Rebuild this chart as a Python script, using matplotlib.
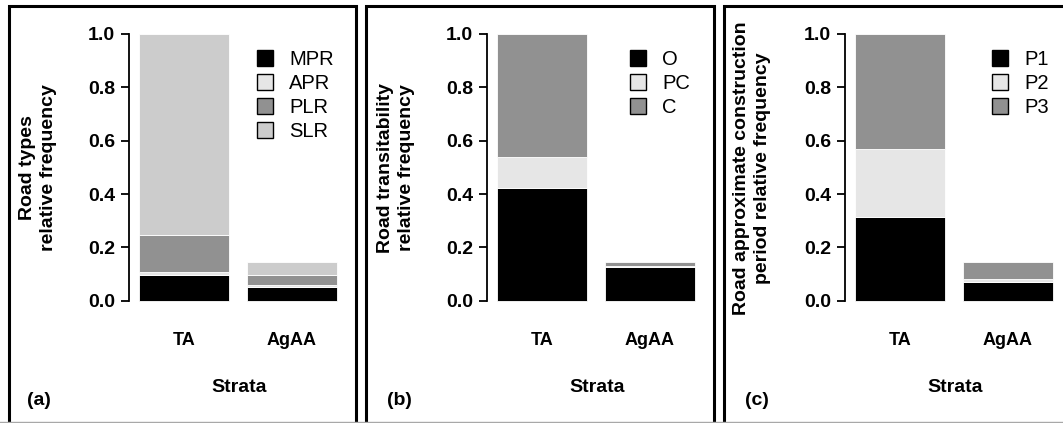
import numpy as np
import matplotlib.pyplot as plt
from matplotlib.patches import Patch, Rectangle
from matplotlib.lines import Line2D

plt.rcParams['font.family'] = ['Liberation Sans', 'DejaVu Sans']

strata = ['TA', 'AgAA']

# (a) road types
type_labels = ['MPR', 'APR', 'PLR', 'SLR']
mpr = [0.095, 0.050]
apr = [0.014, 0.009]
plr = [0.137, 0.037]
slr = [0.754, 0.049]

# (b) road transitability
transit_labels = ['O', 'PC', 'C']
open_ = [0.421, 0.125]
part_closed = [0.117, 0.005]
closed = [0.462, 0.015]

# (c) approximate construction period
period_labels = ['P1', 'P2', 'P3']
p1 = [0.314, 0.070]
p2 = [0.256, 0.013]
p3 = [0.430, 0.062]

BLACK, LIGHT, MID, PALE = 'black', '#e6e6e6', '#919191', '#cccccc'

W, H = 1063, 423
fig = plt.figure(figsize=(W / 100, H / 100), dpi=100)


def fx(px):
    return px / W


def fy(py):
    return 1 - py / H


def stacked_panel(left_px, series, labels, colors, ylabel, ylab_px, tag, tag_px, leg_px):
    ax = fig.add_axes([fx(left_px), fy(311.4), fx(217.8), 288.1 / H])
    x = np.array([0.7, 1.9])
    bottom = np.zeros(2)
    for vals, c in zip(series, colors):
        ax.bar(x, vals, width=1.0, bottom=bottom, color=c,
               edgecolor='white', linewidth=0.6)
        bottom += np.array(vals)

    ax.set_xlim(0.09, 2.51)
    ax.set_ylim(-0.04, 1.04)
    for s in ['top', 'right', 'bottom']:
        ax.spines[s].set_visible(False)
    ax.spines['left'].set_bounds(0, 1)
    ax.spines['left'].set_linewidth(1.3)
    ax.set_yticks([0, 0.2, 0.4, 0.6, 0.8, 1.0])
    ax.set_yticklabels(['0.0', '0.2', '0.4', '0.6', '0.8', '1.0'])
    ax.tick_params(axis='y', length=6, width=1.3, pad=4, labelsize=14)
    ax.set_xticks(x)
    ax.set_xticklabels(strata)
    ax.tick_params(axis='x', length=0, pad=15, labelsize=13)
    for t in ax.get_xticklabels() + ax.get_yticklabels():
        t.set_fontweight('bold')

    fig.text(fx(ylab_px), fy(168), ylabel, rotation=90, ha='center', va='center',
             fontsize=14, fontweight='bold', linespacing=1.25)
    fig.text(fx(left_px + 10 + 100), fy(387), 'Strata', ha='center', va='center',
             fontsize=14, fontweight='bold')
    fig.text(fx(tag_px), fy(400), tag, ha='left', va='center',
             fontsize=14, fontweight='bold')

    handles = [Patch(facecolor=c, edgecolor='black', linewidth=1.0) for c in colors]
    ax.legend(handles, labels, loc='upper left',
              bbox_to_anchor=(fx(leg_px), fy(50)), bbox_transform=fig.transFigure,
              frameon=False, fontsize=14.5, handlelength=0.8, handleheight=0.8,
              handletextpad=0.8, labelspacing=0.25, borderpad=0, borderaxespad=0)
    return ax


stacked_panel(129.1, [mpr, apr, plr, slr], type_labels, [BLACK, LIGHT, MID, PALE],
              'Road types\nrelative frequency', 38, '(a)', 27, 257)
stacked_panel(487.1, [open_, part_closed, closed], transit_labels, [BLACK, LIGHT, MID],
              'Road transitability\nrelative frequency', 396, '(b)', 387, 630)
stacked_panel(845.1, [p1, p2, p3], period_labels, [BLACK, LIGHT, MID],
              'Road approximate construction\nperiod relative frequency', 752, '(c)', 745, 992)

# panel frames
for x0, x1 in [(9, 355.5), (365.5, 713.5), (723.5, 1070)]:
    fig.add_artist(Rectangle((fx(x0), fy(440)), fx(x1 - x0), (440 - 6.5) / H,
                             transform=fig.transFigure, fill=False,
                             edgecolor='black', linewidth=2.2))
fig.add_artist(Line2D([0, 1], [fy(422), fy(422)], transform=fig.transFigure,
                      color='#a8a8a8', linewidth=1.0))

fig.savefig('out.png', dpi=100)
